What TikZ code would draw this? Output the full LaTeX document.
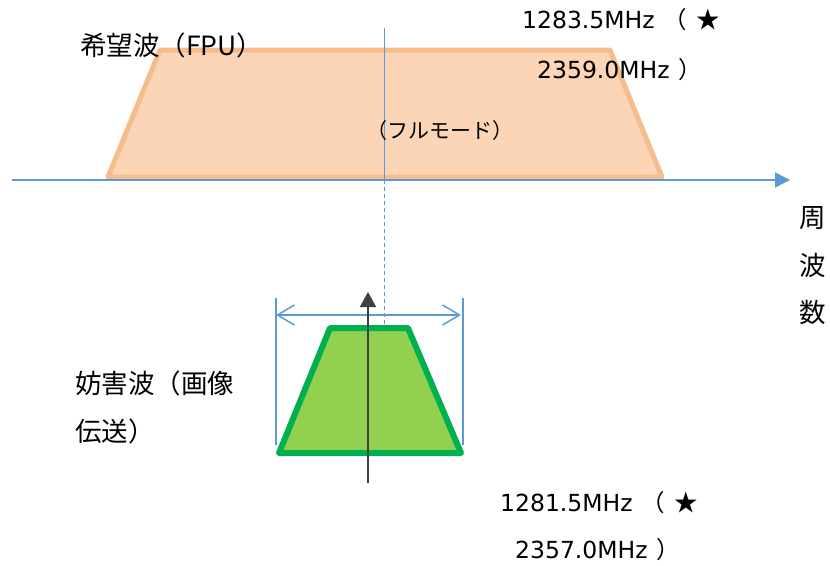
\documentclass[tikz,border=0pt]{standalone}
\usepackage{fontspec}
\setmainfont{Noto Sans CJK JP}
\newfontfamily\numfont{DejaVu Sans}
\usepackage{tikz}
\usetikzlibrary{arrows.meta}

\definecolor{wantfill}{HTML}{FBD5B5}
\definecolor{wantline}{HTML}{F7BC8C}
\definecolor{jamfill}{HTML}{92D050}
\definecolor{jamline}{HTML}{00B050}
\definecolor{axisblue}{HTML}{5B9BD5}
\definecolor{markgray}{HTML}{404040}

\tikzset{
  label/.style={font=\fontsize{26.5}{28}\selectfont, inner sep=0pt},
  smalllabel/.style={font=\fontsize{21}{24}\selectfont, inner sep=0pt},
  freq/.style={font=\fontsize{23.5}{26}\selectfont, inner sep=0pt, anchor=west},
  band/.style={line width=5pt, line join=round},
  axisline/.style={axisblue, line width=1.5pt}
}

\begin{document}
\begin{tikzpicture}[x=1pt, y=-1pt]
  \useasboundingbox (0,0) rectangle (830,565);

  % Desired wave band
  \coordinate (wtl) at (160,50);
  \coordinate (wtr) at (610,50);
  \coordinate (wbr) at (662,177);
  \coordinate (wbl) at (108,177);
  \draw[band, fill=wantfill, draw=wantline] (wtl) -- (wtr) -- (wbr) -- (wbl) -- cycle;

  % Frequency axis
  \coordinate (ax0) at (12,180);
  \coordinate (ax1) at (790,180);
  \draw[axisline, -{Triangle[length=15pt, width=15pt]}] (ax0) -- (ax1);

  % Centre line
  \coordinate (ctop) at (384,28);
  \coordinate (cmid) at (384,180);
  \coordinate (cbot) at (384,326);
  \draw[axisblue, line width=1pt] (ctop) -- (cmid);
  \draw[axisblue, line width=1pt, dash pattern=on 4pt off 3pt] (cmid) -- (cbot);

  % Interfering wave band
  \coordinate (jtl) at (330,328);
  \coordinate (jtr) at (408,328);
  \coordinate (jbr) at (461,453);
  \coordinate (jbl) at (279,453);
  \draw[band, line width=6pt, fill=jamfill, draw=jamline] (jtl) -- (jtr) -- (jbr) -- (jbl) -- cycle;

  % Bandwidth
  \coordinate (bwl) at (276,315);
  \coordinate (bwr) at (461,315);
  \draw[axisline, line width=2pt] (276,298) -- (276,445);
  \draw[axisline, line width=2pt] (463,298) -- (463,445);
  \draw[axisline, {Straight Barb[length=17pt, width=20pt]}-{Straight Barb[length=17pt, width=20pt]}] (bwl) -- (bwr);

  % Carrier
  \coordinate (cr0) at (368,483);
  \coordinate (cr1) at (368,292);
  \draw[markgray, line width=1.3pt, -{Triangle[length=15pt, width=16pt]}] (cr0) -- (cr1);

  % Texts
  \node[label, anchor=west] (want) at (80,45) {希望波（FPU）};
  \node[smalllabel] (mode) at (440,131) {（フルモード）};
  \node[freq] (wf1) at (522,20) {{\numfont 1283.5MHz}\hspace{9pt}（\hspace{9pt}★};
  \node[freq] (wf2) at (537,70) {{\numfont 2359.0MHz}\hspace{9pt}）};
  \node[label, anchor=west] (jam1) at (75,383) {妨害波（画像};
  \node[label, anchor=west] (jam2) at (75,431) {伝送）};
  \node[freq] (jf1) at (500,503) {{\numfont 1281.5MHz}\hspace{9pt}（\hspace{9pt}★};
  \node[freq] (jf2) at (515,550) {{\numfont 2357.0MHz}\hspace{9pt}）};
  \node[label] (ax1c) at (813,218) {周};
  \node[label] (ax2c) at (813,265) {波};
  \node[label] (ax3c) at (813,312) {数};
\end{tikzpicture}
\end{document}
